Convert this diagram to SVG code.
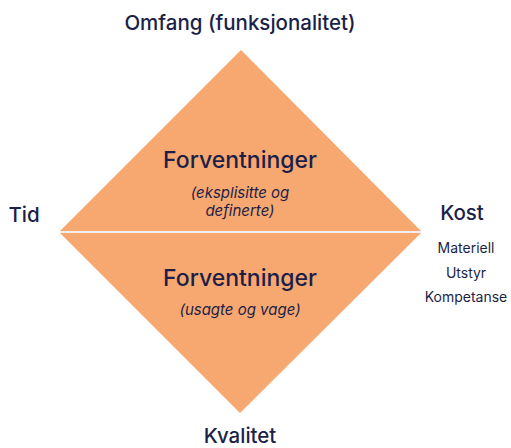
<svg xmlns="http://www.w3.org/2000/svg" width="511" height="448" viewBox="0 0 511 448">
  <style>
    .lbl { font-family: Inter, "Noto Sans", "Liberation Sans", sans-serif; fill: #1c1f48; text-anchor: middle; font-weight: 500; }
    .big { font-size: 20.5px; }
    .head { font-size: 23px; }
    .sub { font-size: 15px; font-style: italic; font-weight: 400; }
    .small { font-size: 14px; font-weight: 400; }
    .tri { fill: #f7a870; }
  </style>
  <rect width="511" height="448" fill="#ffffff"/>
  <g id="upper">
    <polygon class="tri" points="241,50 421,231 60,231"/>
    <text class="lbl head" x="240" y="168">Forventninger</text>
    <text class="lbl sub" x="240" y="198">(eksplisitte og</text>
    <text class="lbl sub" x="240" y="216">definerte)</text>
  </g>
  <g id="lower">
    <polygon class="tri" points="60,233 421,233 240,413"/>
    <text class="lbl head" x="240" y="286">Forventninger</text>
    <text class="lbl sub" x="240" y="315">(usagte og vage)</text>
  </g>
  <g id="divider">
    <line x1="60" y1="232" x2="421" y2="232" stroke="#eeeeee" stroke-width="2"/>
  </g>
  <g id="omfang"><text class="lbl big" x="240" y="30">Omfang (funksjonalitet)</text></g>
  <g id="tid"><text class="lbl big" x="24" y="222">Tid</text></g>
  <g id="kost">
    <text class="lbl big" x="462" y="220">Kost</text>
    <text class="lbl small" x="466" y="253">Materiell</text>
    <text class="lbl small" x="466" y="278">Utstyr</text>
    <text class="lbl small" x="466" y="302">Kompetanse</text>
  </g>
  <g id="kvalitet"><text class="lbl big" x="240" y="443">Kvalitet</text></g>
</svg>
